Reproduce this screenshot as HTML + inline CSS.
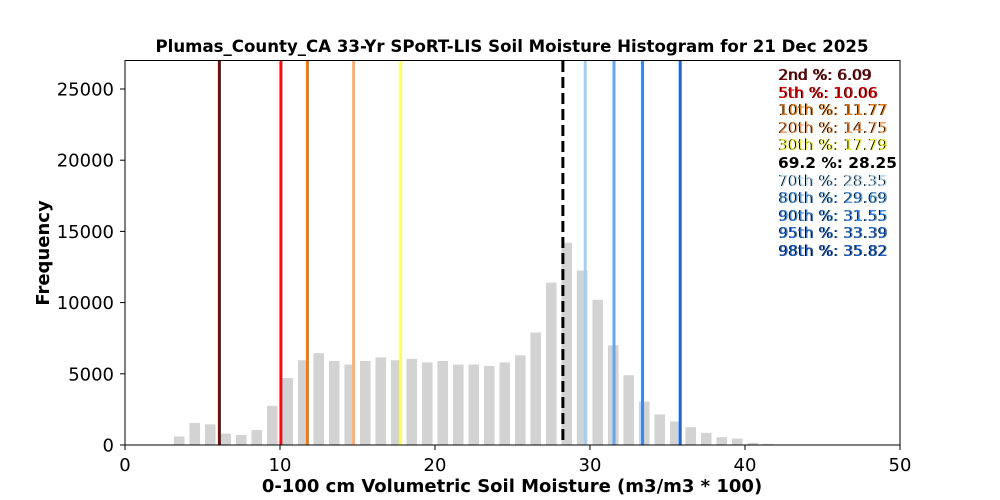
<!DOCTYPE html>
<html><head><meta charset="utf-8"><style>
body{margin:0;background:#fff}
svg{display:block;font-family:"DejaVu Sans","Liberation Sans",sans-serif}
</style></head><body>
<svg id="s" width="1000" height="500" xmlns="http://www.w3.org/2000/svg">
<rect width="1000" height="500" fill="#fff"/>
<g id="bars"></g>
<g id="lines"></g>
<rect x="125" y="60.5" width="775" height="384.5" fill="none" stroke="#000" stroke-width="1"/>
<text x="512" y="52" font-size="16.6" font-weight="bold" text-anchor="middle">Plumas_County_CA 33-Yr SPoRT-LIS Soil Moisture Histogram for 21 Dec 2025</text>
<g font-size="18" text-anchor="middle">
<text x="125" y="471">0</text><text x="280" y="471">10</text><text x="435" y="471">20</text><text x="590" y="471">30</text><text x="745" y="471">40</text><text x="900" y="471">50</text>
</g>
<g font-size="18" text-anchor="end">
<text x="114" y="451.5">0</text><text x="114" y="380.3">5000</text><text x="114" y="309.1">10000</text><text x="114" y="237.9">15000</text><text x="114" y="166.7">20000</text><text x="114" y="95.5">25000</text>
</g>
<g stroke="#000" stroke-width="1">
<line x1="125" y1="445" x2="125" y2="450"/><line x1="280" y1="445" x2="280" y2="450"/><line x1="435" y1="445" x2="435" y2="450"/><line x1="590" y1="445" x2="590" y2="450"/><line x1="745" y1="445" x2="745" y2="450"/><line x1="900" y1="445" x2="900" y2="450"/>
<line x1="120" y1="445" x2="125" y2="445"/><line x1="120" y1="373.8" x2="125" y2="373.8"/><line x1="120" y1="302.6" x2="125" y2="302.6"/><line x1="120" y1="231.4" x2="125" y2="231.4"/><line x1="120" y1="160.2" x2="125" y2="160.2"/><line x1="120" y1="89" x2="125" y2="89"/>
</g>
<text x="512" y="492" font-size="18" font-weight="bold" text-anchor="middle">0-100 cm Volumetric Soil Moisture (m3/m3 * 100)</text>
<text transform="translate(49,253) rotate(-90)" font-size="18" font-weight="bold" text-anchor="middle">Frequency</text>
<g font-size="15.4">
<text x="778" y="80" fill="#000">2nd %: 6.09</text><text x="779" y="80" fill="#7a0a0a">2nd %: 6.09</text>
<text x="778" y="98" fill="#000">5th %: 10.06</text><text x="779" y="98" fill="#e00">5th %: 10.06</text>
<text x="778" y="115" fill="#000">10th %: 11.77</text><text x="779" y="115" fill="#e87a10">10th %: 11.77</text>
<text x="778" y="133" fill="#000">20th %: 14.75</text><text x="779" y="133" fill="#f0a060">20th %: 14.75</text>
<text x="778" y="150" fill="#000">30th %: 17.79</text><text x="779" y="150" fill="#f4f040">30th %: 17.79</text>
<text x="778" y="168" fill="#000" font-weight="bold">69.2 %: 28.25</text>
<text x="778" y="186" fill="#000">70th %: 28.35</text><text x="779" y="186" fill="#b8dcf4">70th %: 28.35</text>
<text x="778" y="203" fill="#000">80th %: 29.69</text><text x="779" y="203" fill="#5aa4e8">80th %: 29.69</text>
<text x="778" y="221" fill="#000">90th %: 31.55</text><text x="779" y="221" fill="#3a8ae6">90th %: 31.55</text>
<text x="778" y="238" fill="#000">95th %: 33.39</text><text x="779" y="238" fill="#2a76dc">95th %: 33.39</text>
<text x="778" y="256" fill="#000">98th %: 35.82</text><text x="779" y="256" fill="#1a62d0">98th %: 35.82</text>
</g>
</svg>
<script>
var ns="http://www.w3.org/2000/svg";
var v=[600,1550,1450,800,700,1050,2750,4700,5950,6450,5900,5650,5900,6150,5950,6050,5800,5900,5650,5650,5550,5800,6300,7900,11400,14200,12250,10200,7000,4900,3050,2150,1650,1250,850,550,450,150,80];
var g=document.getElementById("bars");
v.forEach(function(h,i){var c=3.5+i;var x=125+15.5*c;var r=document.createElementNS(ns,"rect");
var hh=h*0.01424;r.setAttribute("x",x-5.3);r.setAttribute("width",10.6);r.setAttribute("y",445-hh);r.setAttribute("height",hh);r.setAttribute("fill","#d3d3d3");g.appendChild(r);});
var L=[[6.09,"#6e1010"],[10.06,"#f01010"],[11.77,"#f07c10"],[14.75,"#ffb070"],[17.79,"#ffff60"],[29.69,"#a0d0f8"],[31.55,"#60a8f0"],[33.39,"#3a88e8"],[35.82,"#1e66d4"]];
var lg=document.getElementById("lines");
L.forEach(function(a){var l=document.createElementNS(ns,"line");var x=125+15.5*a[0];
l.setAttribute("x1",x);l.setAttribute("x2",x);l.setAttribute("y1",61);l.setAttribute("y2",445);l.setAttribute("stroke",a[1]);l.setAttribute("stroke-width",3);lg.appendChild(l);});
var d=document.createElementNS(ns,"line");var x=125+15.5*28.25;
d.setAttribute("x1",x);d.setAttribute("x2",x);d.setAttribute("y1",61);d.setAttribute("y2",445);d.setAttribute("stroke","#000");d.setAttribute("stroke-width",3);d.setAttribute("stroke-dasharray","11,5");lg.appendChild(d);
</script>
</body></html>
